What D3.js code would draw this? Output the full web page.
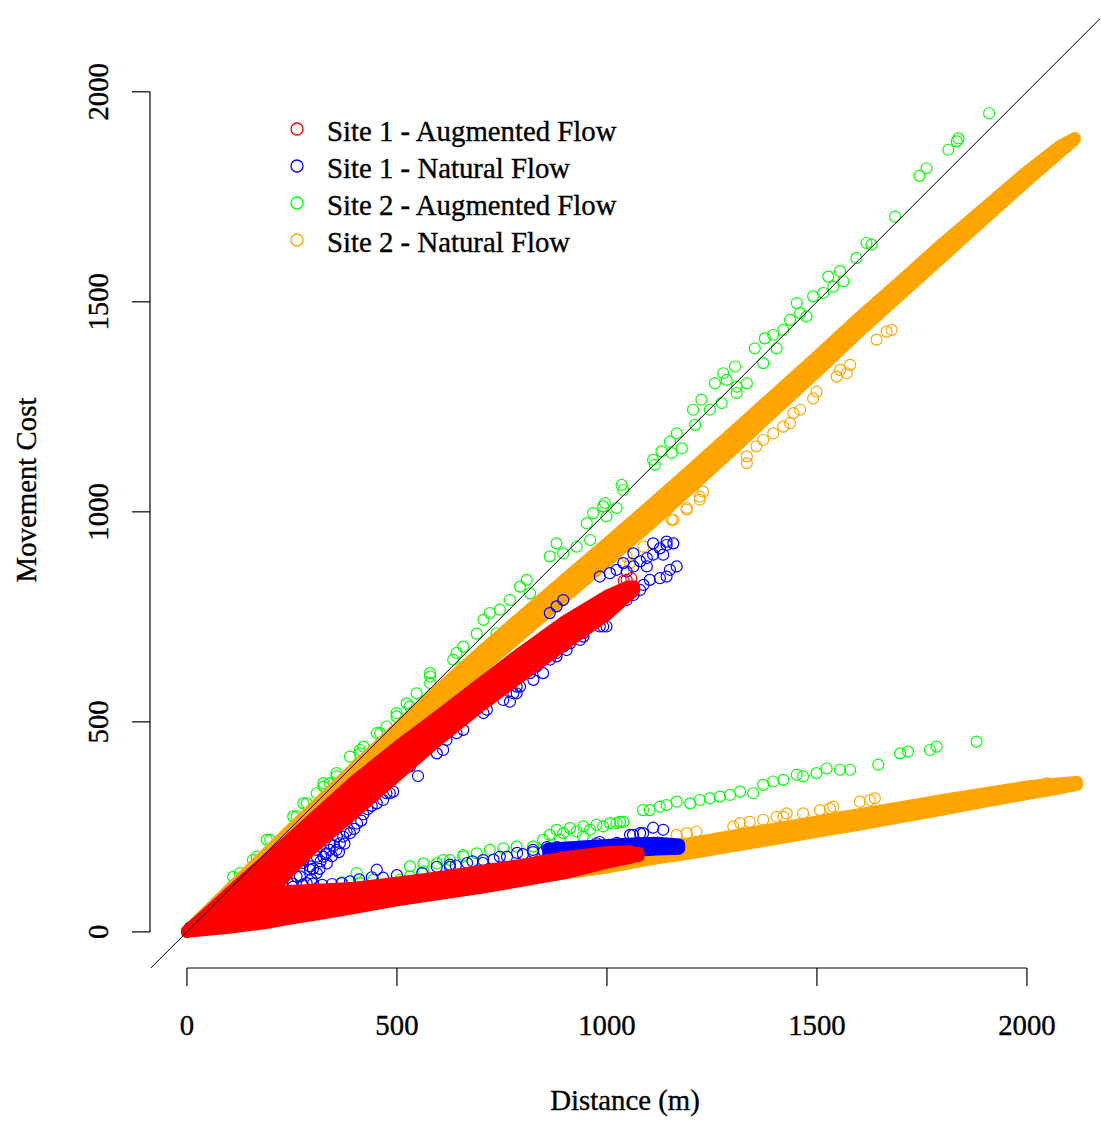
<!DOCTYPE html>
<html>
<head>
<meta charset="utf-8">
<script src="https://cdn.jsdelivr.net/npm/d3@7"></script>
<style>
  html, body { margin: 0; padding: 0; background: #ffffff; }
  svg { display: block; }
  text { font-family: "Liberation Serif", "Times New Roman", serif; fill: #000; stroke: #000; stroke-width: 0.35px; }
</style>
</head>
<body>
<svg id="chart" width="1101" height="1121"></svg>
<script>
// ---- Axis ticks and labels ----
const xTicks = [0, 500, 1000, 1500, 2000];
const yTicks = [0, 500, 1000, 1500, 2000];
const xTitle = "Distance (m)";
const yTitle = "Movement Cost";

// ---- Legend ----
const seriesNames = ["Site 1 - Augmented Flow", "Site 1 - Natural Flow", "Site 2 - Augmented Flow", "Site 2 - Natural Flow"];
const seriesColors = ["#ff0000", "#0000ff", "#00ff00", "#ffa500"];

// ---- Site 1 - Augmented Flow: dense point bands (distance, lowest cost, highest cost) ----
const s1AugUpperBandDist = [0, 50, 100, 150, 200, 250, 300, 400, 500, 600, 700, 800, 900, 1000, 1050, 1065];
const s1AugUpperBandLow  = [0, 20, 40, 65, 95, 150, 200, 285, 372, 458, 538, 612, 685, 755, 800, 812];
const s1AugUpperBandHigh = [2, 46, 92, 137, 180, 225, 270, 360, 440, 515, 592, 668, 740, 800, 822, 822];
const s1AugLowerBandDist = [0, 50, 100, 150, 200, 250, 300, 400, 500, 600, 700, 800, 900, 1000, 1050, 1075];
const s1AugLowerBandLow  = [0, 5, 10, 16, 23, 32, 40, 57, 75, 90, 105, 122, 140, 165, 175, 182];
const s1AugLowerBandHigh = [2, 35, 60, 78, 92, 98, 100, 105, 117, 130, 145, 160, 178, 190, 192, 188];
// scattered points
const s1AugDist = [1040, 1058, 1047, 1068, 1075];
const s1AugCost = [836, 842, 838, 186, 180];

// ---- Site 1 - Natural Flow ----
const s1NatBandDist = [860, 950, 1050, 1120, 1172];
const s1NatBandLow  = [185, 188, 192, 196, 198];
const s1NatBandHigh = [198, 204, 210, 212, 208];
const s1NatDist = [7, 19, 252, 261, 269, 276, 277, 285, 293, 293, 309, 309, 309, 325, 333, 340, 340, 356, 357, 364, 372, 380, 388,
  296, 300, 316, 318, 330, 345, 350, 362, 375, 398, 405, 415, 420, 430, 440,
  452, 467, 483, 475, 491, 531, 550, 595, 610, 618, 642, 658, 706, 714, 753, 761, 769, 777, 785, 785, 793, 817, 825, 833, 848, 848,
  864, 872, 880, 880, 896, 904, 912, 912, 928, 936, 944, 944, 983, 991, 999, 1015, 1031, 1031, 1023, 1047, 1063, 1079, 1087, 1102,
  1126, 1142, 1150, 1166, 1095, 864, 880, 896, 983, 1007, 1023, 1039, 1047, 1063, 1063, 1079, 1095, 1110, 1134, 1110, 1126, 1142,
  1142, 1158,
  252, 275, 300, 322, 345, 368, 388, 410, 440, 452, 467, 500, 531, 560, 595, 626, 626, 640, 667, 680, 705, 705, 730, 745, 762, 786,
  800, 824, 824, 850, 857, 881, 888, 912, 920,
  975, 983, 1024, 1024, 1031, 1048, 1055, 1062, 1071, 1079, 1086, 1095, 1110, 1118, 1134, 1142];
const s1NatCost = [10, 17, 107, 132, 132, 164, 171, 116, 148, 156, 140, 179, 195, 179, 163, 195, 211, 195, 227, 211, 227, 239, 235,
  125, 150, 150, 168, 185, 180, 205, 190, 210, 245, 258, 265, 280, 292, 300,
  306, 314, 330, 330, 334, 394, 371, 425, 433, 457, 473, 481, 521, 529, 552, 584, 548, 568, 568, 584, 584, 616, 600, 632, 616, 648,
  648, 679, 664, 656, 679, 671, 695, 687, 711, 695, 703, 711, 727, 727, 727, 783, 798, 806, 790, 790, 802, 814, 826, 838,
  842, 846, 862, 870, 870, 759, 775, 790, 846, 854, 862, 878, 858, 870, 901, 882, 890, 898, 898, 925, 913, 921,
  929, 925,
  115, 112, 115, 112, 114, 116, 120, 125, 130, 148, 129, 135, 119, 140, 155, 155, 160, 158, 164, 168, 164, 171, 172, 179, 179, 188,
  185, 190, 195, 192, 202, 202, 195, 200, 195,
  211, 214, 212, 187, 179, 207, 231, 231, 203, 235, 235, 200, 248, 203, 243, 203];

// ---- Site 2 - Augmented Flow ----
const s2AugDist = [110, 126, 157, 166, 190, 198, 253, 261, 277, 285, 309, 325, 325, 340, 356, 356, 388, 412, 412, 420, 452, 460, 475,
  499, 499, 523, 531, 547, 579, 579, 579, 634, 642, 658, 690, 706, 721, 737, 745, 769, 793, 809, 817, 864, 880, 896, 928, 952, 960,
  967, 991, 995, 999, 1023, 1035, 1039, 1110, 1114, 1130, 1150, 1154, 1166, 1178, 1205, 1210, 1225, 1245, 1257, 1273, 1277, 1285,
  1305, 1309, 1309, 1333, 1352, 1372, 1376, 1396, 1404, 1420, 1436, 1452, 1460, 1475, 1491, 1515, 1527, 1539, 1555, 1563, 1594,
  1618, 1630, 1686, 1744, 1761, 1813, 1833, 1837, 1910,
  370, 404, 412, 444, 507, 531, 531, 563, 563, 595, 610, 626, 658, 658, 690, 721, 753, 785, 824, 848, 864, 880, 888, 896, 912, 928,
  943, 944, 960, 975, 991, 1007, 1023, 1031, 1039, 1086, 1102, 1126, 1142, 1166, 1198, 1221, 1245, 1269, 1293, 1317, 1348, 1372,
  1396, 1420, 1452, 1467, 1499, 1523, 1555, 1579, 1646, 1698, 1717, 1769, 1785, 1880];
const s2AugCost = [131, 140, 171, 179, 219, 219, 275, 275, 306, 306, 330, 346, 354, 354, 370, 378, 417, 425, 433, 441, 473, 473, 489,
  513, 521, 544, 537, 568, 592, 608, 616, 648, 664, 679, 710, 743, 759, 711, 767, 790, 822, 838, 806, 894, 925, 901, 917, 973, 933,
  997, 1013, 1021, 989, 1009, 1064, 1052, 1124, 1112, 1144, 1167, 1140, 1187, 1151, 1243, 1207, 1267, 1243, 1306, 1259, 1330, 1314,
  1346, 1298, 1283, 1306, 1389, 1354, 1413, 1421, 1389, 1433, 1457, 1497, 1473, 1465, 1513, 1521, 1560, 1536, 1573, 1549, 1604,
  1640, 1636, 1703, 1800, 1818, 1862, 1882, 1889, 1949,
  118, 140, 116, 124, 124, 132, 156, 144, 163, 163, 171, 171, 179, 183, 187, 195, 199, 203, 203, 219, 231, 243, 219, 235, 247, 239,
  227, 251, 243, 255, 251, 259, 259, 262, 262, 290, 290, 298, 302, 310, 306, 314, 318, 322, 326, 334, 330, 350,
  358, 362, 374, 370, 378, 389, 386, 386, 398, 425, 429, 433, 441, 453];

// ---- Site 2 - Natural Flow ----
const s2NatUpperBandDist = [0, 100, 200, 300, 400, 500, 600, 700, 800, 900, 1000, 1100, 1200, 1300, 1400, 1500, 1600, 1700, 1800, 1900, 2000, 2080, 2114];
const s2NatUpperBandLow  = [0, 88, 182, 275, 366, 455, 542, 627, 712, 797, 882, 968, 1058, 1148, 1242, 1333, 1428, 1518, 1608, 1698, 1788, 1857, 1886];
const s2NatUpperBandHigh = [2, 100, 198, 295, 392, 485, 577, 667, 754, 840, 925, 1012, 1100, 1190, 1280, 1370, 1462, 1550, 1640, 1725, 1810, 1872, 1890];
const s2NatLowerBandDist = [500, 600, 800, 1000, 1100, 1200, 1300, 1400, 1500, 1600, 1700, 1800, 1900, 2000, 2080, 2119];
const s2NatLowerBandLow  = [80, 95, 125, 153, 172, 187, 204, 221, 238, 255, 273, 291, 310, 328, 342, 350];
const s2NatLowerBandHigh = [100, 115, 150, 180, 195, 211, 229, 246, 263, 280, 297, 314, 330, 346, 354, 357];
const s2NatDist = [1047, 1055, 1087, 1154, 1158, 1190, 1190, 1221, 1221, 1229, 1333, 1333, 1356, 1372, 1396, 1420, 1436, 1444, 1460,
  1491, 1499, 1547, 1555, 1571, 1579, 1642, 1666, 1678,
  1166, 1190, 1213, 1301, 1317, 1340, 1372, 1404, 1420, 1428, 1467, 1507, 1531, 1539, 1602, 1626, 1638, 1952, 1983, 2007, 2031, 2047];
const s2NatCost = [894, 878, 917, 981, 981, 1009, 1005, 1036, 1029, 1048, 1132, 1116, 1156, 1171, 1187, 1203, 1211, 1235, 1243,
  1270, 1286, 1322, 1338, 1330, 1350, 1410, 1429, 1433,
  231, 235, 239, 251, 259, 262, 267, 274, 274, 282, 282, 290, 294, 298, 310, 314, 318, 338, 342, 342, 350, 354];

// ---- Layout ----
const svg = d3.select("#chart");
const plot = { left: 150, right: 1100, top: 12, bottom: 968 };
const x = d3.scaleLinear().domain([-88, 2174]).range([plot.left, plot.right]);
const y = d3.scaleLinear().domain([-86, 2190]).range([plot.bottom, plot.top]);
const pointRadius = 5.5;
const fontSize = 28.8;

svg.append("defs").append("clipPath").attr("id", "plotClip")
  .append("rect")
  .attr("x", plot.left).attr("y", plot.top)
  .attr("width", plot.right - plot.left).attr("height", plot.bottom - plot.top);

const zip = (dist, lo, hi) => dist.map((d, i) => ({ d, lo: lo[i], hi: hi[i] }));
const pts = (dist, cost) => dist.map((d, i) => ({ d, c: cost[i] }));

// draw order: Site 2 Augmented, Site 2 Natural, Site 1 Natural, Site 1 Augmented
const series = [
  { color: seriesColors[2], bands: [], points: pts(s2AugDist, s2AugCost) },
  { color: seriesColors[3],
    bands: [zip(s2NatUpperBandDist, s2NatUpperBandLow, s2NatUpperBandHigh),
            zip(s2NatLowerBandDist, s2NatLowerBandLow, s2NatLowerBandHigh)],
    points: pts(s2NatDist, s2NatCost) },
  { color: seriesColors[1],
    bands: [zip(s1NatBandDist, s1NatBandLow, s1NatBandHigh)],
    points: pts(s1NatDist, s1NatCost) },
  { color: seriesColors[0],
    bands: [zip(s1AugUpperBandDist, s1AugUpperBandLow, s1AugUpperBandHigh),
            zip(s1AugLowerBandDist, s1AugLowerBandLow, s1AugLowerBandHigh)],
    points: pts(s1AugDist, s1AugCost) }
];

const bandArea = d3.area()
  .x(r => x(r.d))
  .y0(r => y(r.lo))
  .y1(r => y(r.hi));

const marks = svg.append("g").attr("clip-path", "url(#plotClip)");

series.forEach(s => {
  const g = marks.append("g");
  // densely overlapping circles: area between lowest and highest centres,
  // widened by one marker radius on every side
  g.selectAll("path.band").data(s.bands).join("path")
    .attr("class", "band")
    .attr("d", bandArea)
    .attr("fill", s.color)
    .attr("stroke", s.color)
    .attr("stroke-width", pointRadius * 2 + 1)
    .attr("stroke-linejoin", "round")
    .attr("stroke-linecap", "round");
  g.selectAll("circle").data(s.points).join("circle")
    .attr("cx", p => x(p.d))
    .attr("cy", p => y(p.c))
    .attr("r", pointRadius)
    .attr("fill", "none")
    .attr("stroke", s.color)
    .attr("stroke-width", 1.2);
});

// 1:1 reference line
marks.append("line")
  .attr("x1", x(-100)).attr("y1", y(-100))
  .attr("x2", x(2300)).attr("y2", y(2300))
  .attr("stroke", "#000").attr("stroke-width", 1);

// ---- Axes (R style: axis line spans first to last tick) ----
const tickLen = 18;
const xAxis = svg.append("g");
xAxis.append("line")
  .attr("x1", x(xTicks[0])).attr("x2", x(xTicks[xTicks.length - 1]))
  .attr("y1", plot.bottom).attr("y2", plot.bottom)
  .attr("stroke", "#000").attr("stroke-width", 1.2);
xAxis.selectAll("line.tick").data(xTicks).join("line")
  .attr("class", "tick")
  .attr("x1", d => x(d)).attr("x2", d => x(d))
  .attr("y1", plot.bottom).attr("y2", plot.bottom + tickLen)
  .attr("stroke", "#000").attr("stroke-width", 1.2);
xAxis.selectAll("text").data(xTicks).join("text")
  .attr("x", d => x(d)).attr("y", 1035)
  .attr("text-anchor", "middle")
  .attr("font-size", fontSize)
  .text(d => d);

const yAxis = svg.append("g");
yAxis.append("line")
  .attr("x1", plot.left).attr("x2", plot.left)
  .attr("y1", y(yTicks[0])).attr("y2", y(yTicks[yTicks.length - 1]))
  .attr("stroke", "#000").attr("stroke-width", 1.2);
yAxis.selectAll("line.tick").data(yTicks).join("line")
  .attr("class", "tick")
  .attr("x1", plot.left - tickLen).attr("x2", plot.left)
  .attr("y1", d => y(d)).attr("y2", d => y(d))
  .attr("stroke", "#000").attr("stroke-width", 1.2);
yAxis.selectAll("text").data(yTicks).join("text")
  .attr("transform", d => `translate(108,${y(d)}) rotate(-90)`)
  .attr("text-anchor", "middle")
  .attr("font-size", fontSize)
  .text(d => d);

// ---- Axis titles ----
svg.append("text")
  .attr("x", (plot.left + plot.right) / 2).attr("y", 1110)
  .attr("text-anchor", "middle")
  .attr("font-size", fontSize)
  .text(xTitle);
svg.append("text")
  .attr("transform", `translate(36,${(plot.top + plot.bottom) / 2}) rotate(-90)`)
  .attr("text-anchor", "middle")
  .attr("font-size", fontSize)
  .text(yTitle);

// ---- Legend ----
const legend = svg.append("g");
const legendRows = legend.selectAll("g").data(seriesNames).join("g")
  .attr("transform", (d, i) => `translate(297,${129 + i * 37})`);
legendRows.append("circle")
  .attr("r", 6)
  .attr("fill", "none")
  .attr("stroke", (d, i) => seriesColors[i])
  .attr("stroke-width", 1.3);
legendRows.append("text")
  .attr("x", 30).attr("y", 12)
  .attr("font-size", fontSize)
  .text(d => d);
</script>
</body>
</html>
